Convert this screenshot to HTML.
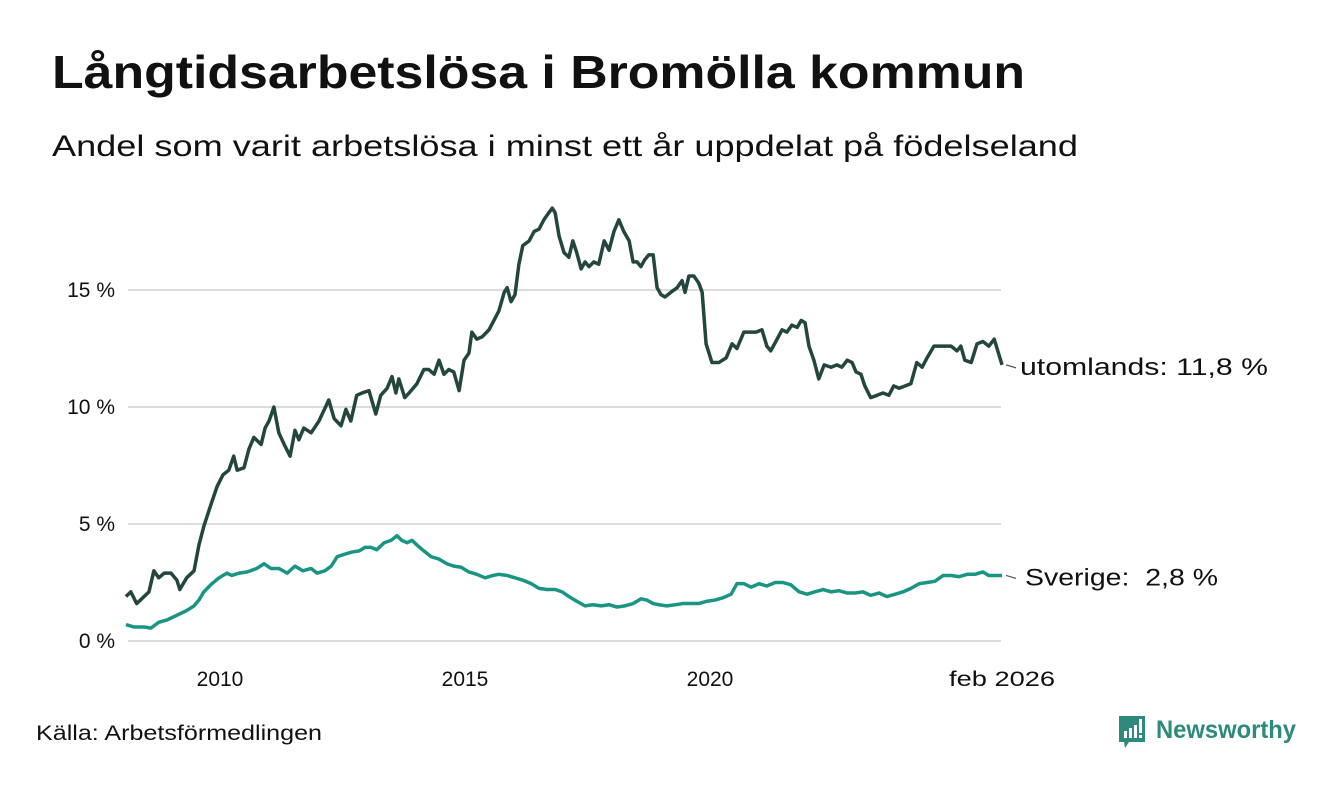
<!DOCTYPE html>
<html><head><meta charset="utf-8">
<style>
body{margin:0;background:#fff;width:1340px;height:780px;overflow:hidden;font-family:"Liberation Sans","DejaVu Sans",sans-serif;}
svg text{font-family:"Liberation Sans","DejaVu Sans",sans-serif;}
</style></head>
<body>
<svg id="chart" width="1340" height="780">
<text x="52" y="88" font-size="46" font-weight="bold" fill="#111" textLength="973" lengthAdjust="spacingAndGlyphs">Långtidsarbetslösa i Bromölla kommun</text>
<text x="52" y="156" font-size="30" fill="#111" textLength="1026" lengthAdjust="spacingAndGlyphs">Andel som varit arbetslösa i minst ett år uppdelat på födelseland</text>
<g id="grid"></g>
<g id="yticks"></g>
<g id="xticks"></g>
<g id="lines"></g>
<text x="36" y="740" font-size="21" fill="#111" textLength="286" lengthAdjust="spacingAndGlyphs">Källa: Arbetsförmedlingen</text>
<g>
<path d="M1119 716 h26 v26 h-16 l-4 6 l-1 -6 h-5 z" fill="#2d8a7c"/>
<rect x="1124" y="731" width="3" height="7" fill="#fff"/><rect x="1129" y="728" width="3" height="10" fill="#fff"/><rect x="1134" y="725" width="3" height="13" fill="#fff"/><rect x="1139" y="719" width="3" height="14" fill="#fff"/><rect x="1139" y="735" width="3" height="3" fill="#fff"/>
<text x="1156" y="738" font-size="25" font-weight="bold" fill="#2d8a7c" textLength="140" lengthAdjust="spacingAndGlyphs">Newsworthy</text>
</g>
</svg>
<script>
const yTicks=[0,5,10,15];
const yTickLabels=["0 %","5 %","10 %","15 %"];
const xTicks=[2010,2015,2020];
const xTickLabels=["2010","2015","2020"];
const lastLabel="feb 2026";
const utDates=[2008.08,2008.18,2008.30,2008.55,2008.65,2008.75,2008.86,2009.00,2009.12,2009.18,2009.32,2009.47,2009.57,2009.67,2009.81,2009.94,2010.06,2010.18,2010.28,2010.35,2010.49,2010.59,2010.69,2010.84,2010.92,2011.00,2011.10,2011.20,2011.31,2011.43,2011.53,2011.61,2011.71,2011.86,2012.02,2012.22,2012.33,2012.47,2012.57,2012.67,2012.79,2012.90,2013.04,2013.18,2013.28,2013.41,2013.51,2013.59,2013.65,2013.77,2013.90,2014.02,2014.16,2014.26,2014.37,2014.47,2014.57,2014.67,2014.77,2014.88,2014.98,2015.08,2015.14,2015.24,2015.35,2015.49,2015.59,2015.69,2015.80,2015.86,2015.94,2016.02,2016.10,2016.18,2016.31,2016.41,2016.51,2016.61,2016.71,2016.78,2016.84,2016.92,2017.02,2017.12,2017.20,2017.28,2017.37,2017.45,2017.53,2017.63,2017.73,2017.84,2017.94,2018.04,2018.14,2018.24,2018.35,2018.43,2018.51,2018.59,2018.67,2018.75,2018.84,2018.92,2019.00,2019.08,2019.20,2019.33,2019.43,2019.49,2019.57,2019.67,2019.77,2019.84,2019.92,2020.04,2020.18,2020.33,2020.45,2020.55,2020.69,2020.79,2020.94,2021.06,2021.16,2021.24,2021.37,2021.47,2021.57,2021.67,2021.78,2021.86,2021.94,2022.02,2022.12,2022.22,2022.33,2022.47,2022.59,2022.69,2022.80,2022.90,2022.98,2023.08,2023.16,2023.28,2023.41,2023.53,2023.65,2023.75,2023.86,2023.98,2024.10,2024.22,2024.33,2024.43,2024.57,2024.67,2024.80,2024.92,2025.04,2025.12,2025.20,2025.33,2025.45,2025.57,2025.69,2025.80,2025.96];
const utValues=[1.9,2.1,1.6,2.1,3.0,2.7,2.9,2.9,2.6,2.2,2.7,3.0,4.1,4.9,5.8,6.6,7.1,7.3,7.9,7.3,7.4,8.2,8.7,8.4,9.1,9.4,10.0,8.9,8.4,7.9,9.0,8.6,9.1,8.9,9.4,10.3,9.5,9.2,9.9,9.4,10.5,10.6,10.7,9.7,10.5,10.8,11.3,10.6,11.2,10.4,10.7,11.0,11.6,11.6,11.4,12.0,11.4,11.6,11.5,10.7,12.0,12.3,13.2,12.9,13.0,13.3,13.7,14.1,14.9,15.1,14.5,14.8,16.1,16.9,17.1,17.5,17.6,18.0,18.3,18.5,18.3,17.3,16.6,16.4,17.1,16.6,15.9,16.2,16.0,16.2,16.1,17.1,16.7,17.5,18.0,17.5,17.1,16.2,16.2,16.0,16.3,16.5,16.5,15.1,14.8,14.7,14.9,15.1,15.4,14.9,15.6,15.6,15.3,14.9,12.7,11.9,11.9,12.1,12.7,12.5,13.2,13.2,13.2,13.3,12.6,12.4,12.9,13.3,13.2,13.5,13.4,13.7,13.6,12.6,12.0,11.2,11.8,11.7,11.8,11.7,12.0,11.9,11.5,11.4,10.9,10.4,10.5,10.6,10.5,10.9,10.8,10.9,11.0,11.9,11.7,12.1,12.6,12.6,12.6,12.6,12.4,12.6,12.0,11.9,12.7,12.8,12.6,12.9,11.8];
const seDates=[2008.08,2008.24,2008.45,2008.59,2008.75,2008.92,2009.12,2009.32,2009.47,2009.57,2009.67,2009.81,2009.98,2010.14,2010.24,2010.39,2010.55,2010.75,2010.90,2011.04,2011.20,2011.37,2011.53,2011.69,2011.86,2011.98,2012.14,2012.27,2012.39,2012.53,2012.69,2012.84,2012.96,2013.08,2013.20,2013.35,2013.49,2013.61,2013.71,2013.82,2013.92,2014.02,2014.16,2014.31,2014.47,2014.63,2014.77,2014.92,2015.08,2015.24,2015.41,2015.57,2015.69,2015.86,2016.02,2016.18,2016.35,2016.51,2016.67,2016.84,2016.98,2017.12,2017.28,2017.45,2017.61,2017.78,2017.94,2018.10,2018.26,2018.43,2018.59,2018.71,2018.84,2018.96,2019.12,2019.29,2019.45,2019.61,2019.77,2019.94,2020.10,2020.27,2020.43,2020.55,2020.69,2020.84,2021.00,2021.16,2021.33,2021.49,2021.65,2021.82,2021.98,2022.14,2022.31,2022.47,2022.63,2022.80,2022.96,2023.12,2023.28,2023.45,2023.61,2023.78,2023.94,2024.10,2024.27,2024.43,2024.59,2024.76,2024.92,2025.08,2025.25,2025.41,2025.57,2025.69,2025.82,2025.96];
const seValues=[0.7,0.6,0.6,0.55,0.8,0.9,1.1,1.3,1.5,1.75,2.1,2.4,2.7,2.9,2.8,2.9,2.95,3.1,3.3,3.1,3.1,2.9,3.2,3.0,3.1,2.9,3.0,3.2,3.6,3.7,3.8,3.85,4.0,4.0,3.9,4.2,4.3,4.5,4.3,4.2,4.3,4.1,3.85,3.6,3.5,3.3,3.2,3.15,2.95,2.85,2.7,2.8,2.85,2.8,2.7,2.6,2.45,2.25,2.2,2.2,2.1,1.9,1.7,1.5,1.55,1.5,1.55,1.45,1.5,1.6,1.8,1.75,1.6,1.55,1.5,1.55,1.6,1.6,1.6,1.7,1.75,1.85,2.0,2.45,2.45,2.3,2.45,2.35,2.5,2.5,2.4,2.1,2.0,2.1,2.2,2.1,2.15,2.05,2.05,2.1,1.95,2.05,1.9,2.0,2.1,2.25,2.45,2.5,2.55,2.8,2.8,2.75,2.85,2.85,2.95,2.8,2.8,2.8];
const NS="http://www.w3.org/2000/svg";
const X=y=>220+(y-2010)*49;
const Y=v=>641-v*23.4;
function mk(tag,attrs,parent){const e=document.createElementNS(NS,tag);for(const k in attrs)e.setAttribute(k,attrs[k]);parent.appendChild(e);return e;}
const grid=document.getElementById('grid'),yt=document.getElementById('yticks'),xt=document.getElementById('xticks'),lines=document.getElementById('lines');
yTicks.forEach((v,i)=>{
  const l=mk('line',{x1:128,x2:1001,y1:Y(v),y2:Y(v),stroke:'#dcdcdc','stroke-width':2},grid);
  
  
  const t=mk('text',{x:115,y:Y(v)+7,'font-size':21,fill:'#111','text-anchor':'end'},yt);
  t.textContent=yTickLabels[i];
  
  
});
xTicks.forEach((v,i)=>{
  const t=mk('text',{x:X(v),y:686,'font-size':21,fill:'#111','text-anchor':'middle'},xt);
  t.textContent=xTickLabels[i];
  
  
});
const lt=mk('text',{x:X(utDates[utDates.length-1]),y:686,'font-size':21,fill:'#111','text-anchor':'middle',textLength:106,lengthAdjust:'spacingAndGlyphs'},xt);
lt.textContent=lastLabel;


function series(d,v,color,name,label,lx,tl){
  const p=mk('polyline',{points:d.map((x,i)=>X(x)+','+Y(v[i])).join(' '),fill:'none',stroke:color,'stroke-width':3.5,'stroke-linejoin':'round'},lines);
  
  
  const ex=X(d[d.length-1]),ey=Y(v[v.length-1]);
  mk('line',{x1:ex+4,x2:ex+14,y1:ey,y2:ey+3,stroke:'#555','stroke-width':1.2},lines);
  const t=mk('text',{x:lx,y:ey+10,'font-size':24,fill:'#111',textLength:tl,lengthAdjust:'spacingAndGlyphs'},lines);
  t.textContent=label+v[v.length-1].toFixed(1).replace('.',',')+' %';
  
  
}
series(seDates,seValues,'#1a9584','line-sverige','Sverige:\u00a0 ',1025,193);
series(utDates,utValues,'#23463f','line-utomlands','utomlands: ',1020,248);
</script>
</body></html>
